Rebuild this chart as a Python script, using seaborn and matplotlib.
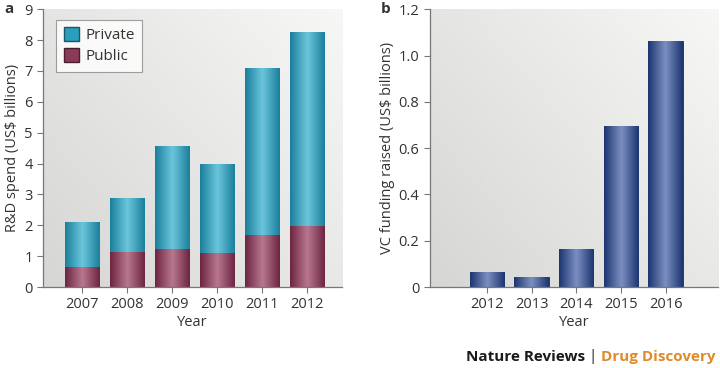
import numpy as np
import pandas as pd
import matplotlib
matplotlib.use("Agg")
import matplotlib.pyplot as plt
import seaborn as sns
from matplotlib.colors import LinearSegmentedColormap, to_rgb
from matplotlib.patches import Patch

# ---- data ----
years_a = ["2007", "2008", "2009", "2010", "2011", "2012"]
private_plus_public = [2.11, 2.87, 4.58, 3.98, 7.09, 8.26]   # bar tops (total)
public = [0.65, 1.14, 1.24, 1.11, 1.70, 1.98]
years_b = ["2012", "2013", "2014", "2015", "2016"]
vc_funding = [0.065, 0.043, 0.165, 0.697, 1.062]

sns.set_theme(style="white")
plt.rcParams["font.family"] = ["Open Sans", "DejaVu Sans"]
TXT = "#333333"

fig = plt.figure(figsize=(7.2, 3.68), dpi=100)
ax1 = fig.add_axes([0.0597, 0.220, 0.4153, 0.755])
ax2 = fig.add_axes([0.597, 0.220, 0.400, 0.755])

df_a = pd.DataFrame({"Year": years_a, "Total": private_plus_public, "Public": public})
df_b = pd.DataFrame({"Year": years_b, "VC": vc_funding})

teal = "#2a9fbd"
maroon = "#8b3a58"
navy = "#2b4b8e"

sns.barplot(data=df_a, x="Year", y="Total", color=teal, width=0.76, ax=ax1,
            saturation=1, edgecolor="#1d5566", linewidth=0.6)
sns.barplot(data=df_a, x="Year", y="Public", color=maroon, width=0.76, ax=ax1,
            saturation=1, edgecolor="#4a1f30", linewidth=0.6)
sns.barplot(data=df_b, x="Year", y="VC", color=navy, width=0.77, ax=ax2,
            saturation=1, edgecolor="#1a2d55", linewidth=0.6)


def shade_bars(ax, base_cmaps):
    """Overlay a horizontal cylinder-like gradient on each bar."""
    grad = np.linspace(0, 1, 64).reshape(1, -1)
    for patch in list(ax.patches):
        fc = patch.get_facecolor()
        key = tuple(np.round(fc[:3], 3))
        cmap = base_cmaps.get(key)
        if cmap is None:
            continue
        x0, y0 = patch.get_x(), patch.get_y()
        w, h = patch.get_width(), patch.get_height()
        im = ax.imshow(grad, cmap=cmap, aspect="auto",
                       extent=(x0, x0 + w, y0, y0 + h), zorder=patch.get_zorder() + 0.1,
                       interpolation="bicubic")
        im.set_clip_path(patch)


def cyl(dark, light):
    return LinearSegmentedColormap.from_list("c", [dark, light, dark])


cmaps = {
    tuple(np.round(to_rgb(teal), 3)): cyl("#1b7f9c", "#6cc6dc"),
    tuple(np.round(to_rgb(maroon), 3)): cyl("#6e2542", "#b8788f"),
    tuple(np.round(to_rgb(navy), 3)): cyl("#1c3671", "#7d8fc2"),
}


def bg(ax):
    # soft gray gradient background: darker lower-left, lighter upper-right
    yy, xx = np.mgrid[0:1:100j, 0:1:100j]
    z = 0.55 * xx + 0.45 * yy
    cm = LinearSegmentedColormap.from_list("bg", ["#d6d6d4", "#f7f7f5"])
    ax.imshow(z, cmap=cm, origin="lower", aspect="auto",
              extent=(0, 1, 0, 1), transform=ax.transAxes, zorder=-10)


ax1.set_ylim(0, 9)
ax1.set_xlim(-0.87, 5.78)
ax2.set_ylim(0, 1.2)
ax2.set_xlim(-1.28, 5.17)

for ax in (ax1, ax2):
    shade_bars(ax, cmaps)
    bg(ax)
    for s in ("top", "right"):
        ax.spines[s].set_visible(False)
    for s in ("left", "bottom"):
        ax.spines[s].set_color("#777777")
        ax.spines[s].set_linewidth(0.9)
    ax.tick_params(axis="both", which="both", direction="out", length=4, width=0.8,
                   colors="#777777", labelcolor=TXT, labelsize=10.5, left=True, bottom=True)
    ax.set_xlabel("Year", fontsize=10.5, color=TXT, labelpad=2)
    ax.grid(False)

ax1.set_yticks(range(0, 10))
ax1.set_ylabel("R&D spend (US$ billions)", fontsize=10.5, color=TXT, labelpad=3)
ax2.set_yticks([0, 0.2, 0.4, 0.6, 0.8, 1.0, 1.2])
ax2.set_yticklabels(["0", "0.2", "0.4", "0.6", "0.8", "1.0", "1.2"])
ax2.set_ylabel("VC funding raised (US$ billions)", fontsize=10.5, color=TXT, labelpad=3)

handles = [Patch(facecolor=teal, edgecolor="#1d5566", label="Private"),
           Patch(facecolor=maroon, edgecolor="#4a1f30", label="Public")]
leg = ax1.legend(handles=handles, loc="upper left", bbox_to_anchor=(0.018, 0.99),
                 frameon=True, fancybox=False, fontsize=11, handlelength=1.0,
                 handleheight=1.0, handletextpad=0.4, borderpad=0.5, labelspacing=0.3)
leg.get_frame().set_edgecolor("#888888")
leg.get_frame().set_facecolor("white")
leg.get_frame().set_linewidth(0.8)
for t in leg.get_texts():
    t.set_color(TXT)

fig.text(0.006, 0.975, "a", fontsize=11, fontweight="bold", color=TXT, va="center")
fig.text(0.529, 0.975, "b", fontsize=11, fontweight="bold", color=TXT, va="center")

# footer, right-aligned at the figure's right edge
fy = 0.03
fs = 11
fig.canvas.draw()
r = fig.canvas.get_renderer()
t3 = fig.text(0.994, fy, "Drug Discovery", fontsize=fs, fontweight="bold",
              color="#e08a2c", va="center", ha="right")
bb3 = t3.get_window_extent(r)
t2 = fig.text(bb3.x0 / fig.bbox.width, fy, " | ", fontsize=fs, color="#1a1a1a",
              va="center", ha="right")
bb2 = t2.get_window_extent(r)
fig.text(bb2.x0 / fig.bbox.width, fy, "Nature Reviews", fontsize=fs, fontweight="bold",
         color="#1a1a1a", va="center", ha="right")

fig.savefig("out.png", dpi=100)
